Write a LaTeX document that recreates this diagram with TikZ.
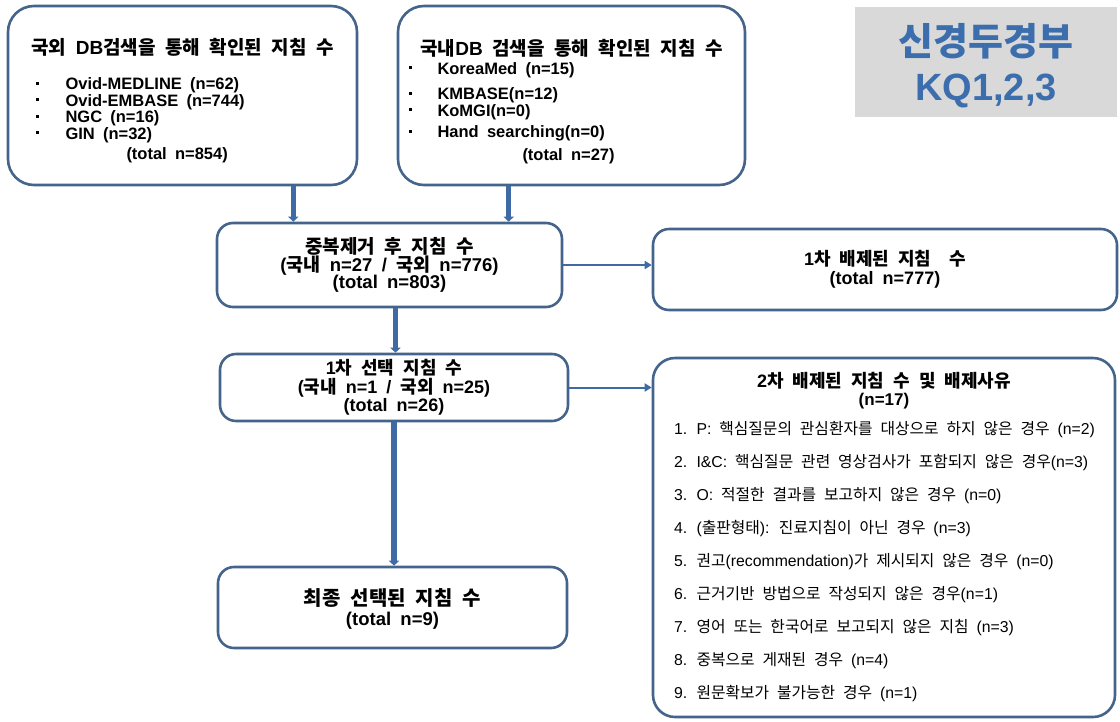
\documentclass[tikz,border=0pt]{standalone}
\usepackage{fontspec}
\setmainfont{Liberation Sans}[WordSpace=1.8]
\newfontfamily\kr{Noto Sans CJK KR}
\usetikzlibrary{arrows.meta,positioning,calc}
\definecolor{Edge}{HTML}{44648C}
\definecolor{Flow}{HTML}{3E6AA6}
\definecolor{Panel}{HTML}{D9D9D9}
\definecolor{Head}{HTML}{3C6EAD}
% Hangul -> CJK font
\XeTeXinterchartokenstate=1
\newXeTeXintercharclass\hangulclass
\count255="AC00
\loop\XeTeXcharclass\count255=\hangulclass
  \ifnum\count255<"D7A3 \advance\count255 by 1 \repeat
\XeTeXinterchartoks 0 \hangulclass={\begingroup\kr}
\XeTeXinterchartoks 4095 \hangulclass={\begingroup\kr}
\XeTeXinterchartoks \hangulclass 0={\endgroup}
\XeTeXinterchartoks \hangulclass 4095={\endgroup}
\newcommand\fs[2]{\fontsize{#1}{#2}\selectfont}
\newcommand\bul{\raisebox{.3em}{\rule{3pt}{3pt}}\hspace{26pt}}
\newcommand\itm[1]{\makebox[420pt][l]{\mdseries\fs{15.8}{17}#1}}

\begin{document}
\begin{tikzpicture}[x=1pt,y=-1pt,
    n/.style={draw=Edge,line width=2.6pt,fill=white,rounded corners=16pt,inner sep=0pt,align=center,font=\bfseries},
    a/.style={-{Triangle[length=5pt,width=10pt]},line width=5.5pt,draw=Flow},
    ta/.style={-{Triangle[length=7pt,width=8pt]},line width=2pt,draw=Flow}]
  \useasboundingbox (0,0) rectangle (1120,721);
  % search boxes
  \node[n,rounded corners=26pt,minimum width=349pt,minimum height=179pt,font=\bfseries\fs{16.5}{16.5}] (fdb) at (182.5,95.5) {{\fs{19}{20}\rule{0pt}{26pt}국외 DB검색을 통해 확인된 지침 수}\\[19pt]
    \makebox[306pt][l]{\hspace*{7pt}\bul Ovid-MEDLINE (n=62)}\\
    \makebox[306pt][l]{\hspace*{7pt}\bul Ovid-EMBASE (n=744)}\\
    \makebox[306pt][l]{\hspace*{7pt}\bul NGC (n=16)}\\
    \makebox[306pt][l]{\hspace*{7pt}\bul GIN (n=32)}\\[4pt]
    \makebox[306pt][l]{\hspace*{97pt}(total n=854)}};
  \node[n,rounded corners=26pt,minimum width=347pt,minimum height=179pt,font=\bfseries\fs{16.5}{16.5}] (ddb) at (571.5,95.5) {{\fs{19}{20}\rule{0pt}{28pt}국내DB 검색을 통해 확인된 지침 수}\\[2pt]
    \makebox[306pt][l]{\hspace*{-10pt}\bul KoreaMed (n=15)}\\[9pt]
    \makebox[306pt][l]{\hspace*{-10pt}\bul KMBASE(n=12)}\\
    \makebox[306pt][l]{\hspace*{-10pt}\bul KoMGI(n=0)}\\[5pt]
    \makebox[306pt][l]{\hspace*{-10pt}\bul Hand searching(n=0)}\\[6pt]
    \makebox[306pt][l]{\hspace*{104pt}(total n=27)}};
  \node[fill=Panel,minimum width=262pt,minimum height=110pt,inner sep=0pt,align=center,text=Head,font=\bfseries\fs{38}{45}] (kq) at (986,62) {\rule{0pt}{40pt}신경두경부\\KQ1,2,3};
  % flow
  \node[n,minimum width=345pt,minimum height=84pt,font=\bfseries\fs{18.5}{17.5}] (dedup) at (389.5,265) {{\fs{19}{17.5}중복제거 후 지침 수}\\(국내 n=27 / 국외 n=776)\\(total n=803)};
  \node[n,minimum width=464pt,minimum height=81pt,font=\bfseries\fs{18}{19}] (ex1) at (885,269.5) {1차 배제된 지침\ \ 수\\(total n=777)};
  \node[n,minimum width=348pt,minimum height=67pt,font=\bfseries\fs{18}{18.5}] (sel) at (394,387.5) {1차 선택 지침 수\\(국내 n=1 / 국외 n=25)\\(total n=26)};
  \node[n,rounded corners=22pt,minimum width=462pt,minimum height=359pt,font=\bfseries\fs{18}{18}] (ex2) at (884,537.5) {2차 배제된 지침 수 및 배제사유\\
    {\fs{17}{18}(n=17)}\\[11pt]
    \itm{1. P: 핵심질문의 관심환자를 대상으로 하지 않은 경우 (n=2)}\\[15pt]
    \itm{2. I\&C: 핵심질문 관련 영상검사가 포함되지 않은 경우(n=3)}\\[15pt]
    \itm{3. O: 적절한 결과를 보고하지 않은 경우 (n=0)}\\[15pt]
    \itm{4. (출판형태): 진료지침이 아닌 경우 (n=3)}\\[15pt]
    \itm{5. 권고(recommendation)가 제시되지 않은 경우 (n=0)}\\[15pt]
    \itm{6. 근거기반 방법으로 작성되지 않은 경우(n=1)}\\[15pt]
    \itm{7. 영어 또는 한국어로 보고되지 않은 지침 (n=3)}\\[15pt]
    \itm{8. 중복으로 게재된 경우 (n=4)}\\[15pt]
    \itm{9. 원문확보가 불가능한 경우 (n=1)}};
  \node[n,minimum width=349pt,minimum height=81pt,font=\bfseries\fs{18.5}{20}] (final) at (392.5,607.5) {{\fs{20}{20}\rule{0pt}{20pt}최종 선택된 지침 수}\\(total n=9)};
  \draw[a] ([xshift=-65pt]fdb.south east) -- ([xshift=-65pt]fdb.south east |- dedup.north);
  \draw[a] ([xshift=112pt]ddb.south west) -- ([xshift=112pt]ddb.south west |- dedup.north);
  \draw[a] ([xshift=6pt]dedup.south) -- ([xshift=6pt]dedup.south |- sel.north);
  \draw[a] (sel.south) -- (sel.south |- final.north);
  \draw[ta] (dedup.east) -- (dedup.east -| ex1.west);
  \draw[ta] (sel.east) -- (sel.east -| ex2.west);
\end{tikzpicture}
\end{document}
